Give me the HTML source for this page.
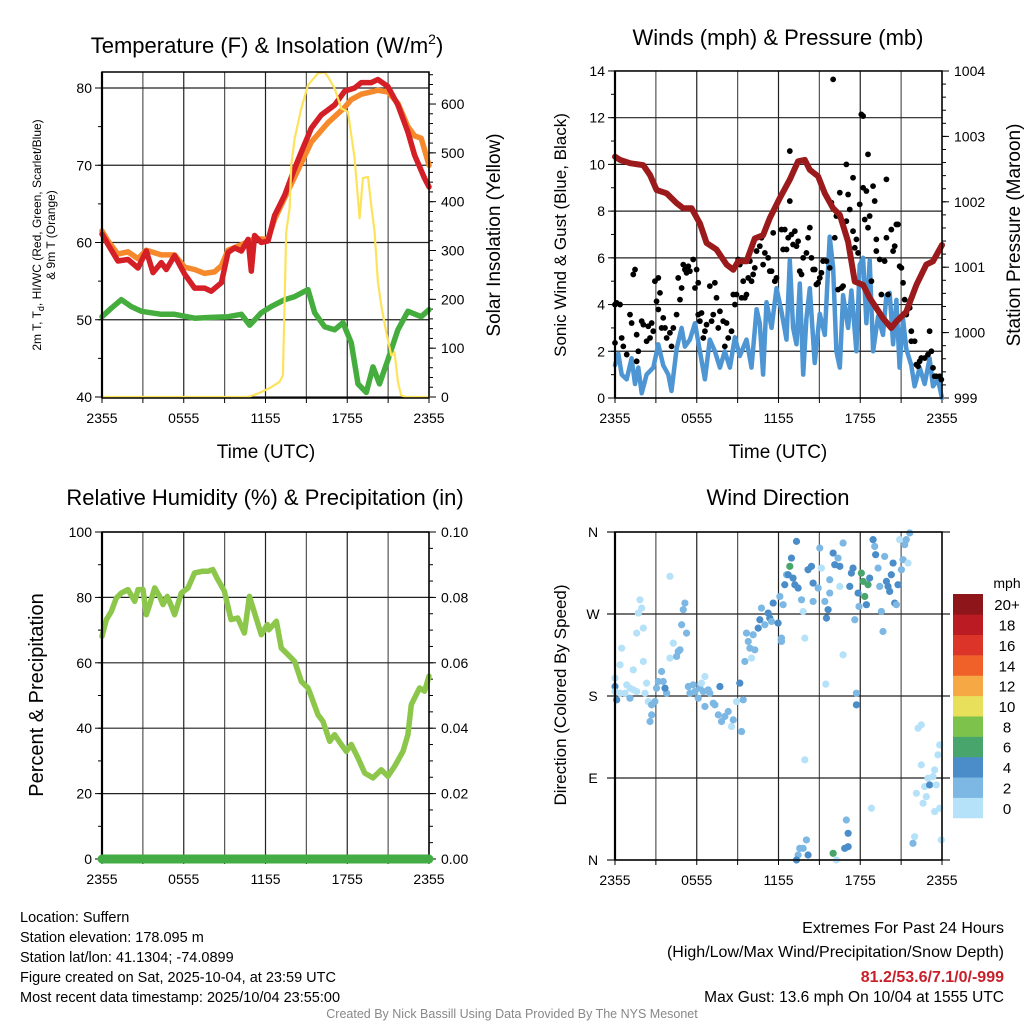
<!DOCTYPE html>
<html><head><meta charset="utf-8"><style>
html,body{margin:0;padding:0;background:#fff;}
svg{display:block;font-family:"Liberation Sans",Arial,sans-serif;}
</style></head><body>
<svg id="chart" width="1024" height="1024" viewBox="0 0 1024 1024" xmlns="http://www.w3.org/2000/svg">
<rect x="0" y="0" width="1024" height="1024" fill="#fff"/>
<g id="layer"></g>
<text x="267" y="53" font-size="22" text-anchor="middle">Temperature (F) &amp; Insolation (W/m<tspan dy="-9" font-size="14">2</tspan><tspan dy="9">)</tspan></text>
<text x="778" y="45" font-size="22" text-anchor="middle">Winds (mph) &amp; Pressure (mb)</text>
<text x="265" y="505" font-size="22" text-anchor="middle">Relative Humidity (%) &amp; Precipitation (in)</text>
<text x="778" y="505" font-size="22" text-anchor="middle">Wind Direction</text>
<text x="266" y="458" font-size="19" text-anchor="middle">Time (UTC)</text>
<text x="778" y="458" font-size="19" text-anchor="middle">Time (UTC)</text>
<text transform="translate(41,235) rotate(-90)" font-size="12" text-anchor="middle">2m T, T<tspan font-size="9" dy="3">d</tspan><tspan dy="-3">, HI/WC (Red, Green, Scarlet/Blue)</tspan></text>
<text transform="translate(55,235) rotate(-90)" font-size="12" text-anchor="middle">&amp; 9m T (Orange)</text>
<text transform="translate(500,235) rotate(-90)" font-size="19" text-anchor="middle">Solar Insolation (Yellow)</text>
<text transform="translate(566,235) rotate(-90)" font-size="17" text-anchor="middle">Sonic Wind &amp; Gust (Blue, Black)</text>
<text transform="translate(1020,235) rotate(-90)" font-size="19" text-anchor="middle">Station Pressure (Maroon)</text>
<text transform="translate(43,695) rotate(-90)" font-size="20" text-anchor="middle">Percent &amp; Precipitation</text>
<text transform="translate(566,695) rotate(-90)" font-size="17" text-anchor="middle">Direction (Colored By Speed)</text>
<g font-size="14.5">
<text x="20" y="922">Location: Suffern</text>
<text x="20" y="942">Station elevation: 178.095 m</text>
<text x="20" y="962">Station lat/lon: 41.1304; -74.0899</text>
<text x="20" y="982">Figure created on Sat, 2025-10-04, at 23:59 UTC</text>
<text x="20" y="1002">Most recent data timestamp: 2025/10/04 23:55:00</text>
</g>
<g text-anchor="end">
<text x="1004" y="933" font-size="16">Extremes For Past 24 Hours</text>
<text x="1004" y="957" font-size="16">(High/Low/Max Wind/Precipitation/Snow Depth)</text>
<text x="1004" y="982" font-size="16" font-weight="bold" fill="#c8202a">81.2/53.6/7.1/0/-999</text>
<text x="1004" y="1002" font-size="15.5">Max Gust: 13.6 mph On 10/04 at 1555 UTC</text>
</g>
<text x="512" y="1018" font-size="12.5" fill="#888" text-anchor="middle">Created By Nick Bassill Using Data Provided By The NYS Mesonet</text>
</svg>
<script>
// ---- time ticks ----
const timeTickLabels = ["2355","0555","1155","1755","2355"];
// ---- temperature panel ----
const redT = [0,0.49,1.17,1.91,2.64,3.25,3.74,4.35,4.72,5.33,6.07,6.80,7.53,8.02,8.76,9.25,9.74,10.23,10.72,10.96,11.20,11.69,12.18,12.67,13.40,14.14,14.63,15.36,16.09,17.07,17.81,18.54,19.03,19.76,20.25,20.98,21.72,22.45,22.94,23.68,24];
const redV = [61.1,59.6,57.6,57.8,56.7,58.9,56.1,57.4,56.5,58.3,55.9,54.1,54.1,53.7,54.8,58.7,59.3,58.9,60.4,56.3,60.9,60.0,60.2,63.5,66.1,69.6,71.7,74.8,76.5,77.8,79.6,80.0,80.7,80.7,81.1,80.2,77.8,74.3,71.3,68.3,67.2];
const orangeT = [0,0.44,1.17,1.91,2.64,3.25,4.35,5.33,6.07,6.80,7.53,8.26,8.76,9.25,10.23,11.20,12.18,12.67,14.14,15.36,16.58,17.81,18.30,19.03,20.25,20.98,21.72,22.45,22.94,23.43,24];
const orangeV = [61.5,60.2,58.5,58.8,57.9,59.0,58.4,58.4,56.8,56.5,56.0,56.2,57.0,59.0,59.7,60.5,60.4,63.0,68.5,73.0,75.5,77.5,78.5,79.2,79.7,79.5,78.0,75.0,73.8,73.5,70.0];
const greenT = [0,0.68,1.42,2.15,2.89,3.62,4.35,5.33,6.80,8.02,9.25,10.23,10.84,11.69,12.42,13.40,14.14,15.12,15.61,16.34,17.07,17.69,18.30,18.79,19.40,19.89,20.37,20.98,21.72,22.45,23.43,24];
const greenV = [50.4,51.5,52.6,51.7,51.1,50.9,50.7,50.7,50.2,50.3,50.4,50.7,49.3,50.9,51.7,52.6,53.0,53.9,50.9,49.1,48.7,49.6,47.0,41.7,40.6,43.9,41.7,44.8,48.7,51.1,50.4,51.3];
const solarT = [0,10.72,11.45,12.42,13.03,13.28,13.52,13.77,13.89,14.14,14.63,15.12,15.85,16.34,16.58,17.07,17.56,18.05,18.54,18.91,19.15,19.52,19.76,20.01,20.25,20.49,20.86,21.23,21.47,21.72,21.96,22.33,22.70,24];
const solarV = [0,0,7,20,31,44,338,386,475,530,591,639,663,665,656,632,591,584,489,366,448,451,393,338,236,188,133,85,92,31,3,0,0,0];
const tempTicks = [40,50,60,70,80];
const solarTicks = [0,100,200,300,400,500,600];
// ---- winds panel ----
const windT = [0,0.24,0.49,0.86,1.22,1.47,1.71,1.96,2.32,2.81,3.18,3.54,3.91,4.15,4.52,4.89,5.13,5.50,5.87,6.23,6.60,6.96,7.33,7.70,8.06,8.43,8.80,9.16,9.65,10.02,10.39,10.63,10.87,11.12,11.49,11.85,12.22,12.59,12.83,13.07,13.32,13.56,13.81,14.05,14.30,14.66,15.03,15.40,15.76,16.01,16.25,16.50,16.74,17.11,17.35,17.72,17.96,18.21,18.45,18.69,18.94,19.31,19.67,19.92,20.16,20.41,20.65,20.89,21.14,21.38,21.75,21.99,22.36,22.73,23.09,23.34,23.70,24];
const windV = [1.4,1.9,1.0,0.8,1.7,0.6,1.3,0.2,1.0,1.3,2.3,1.4,1.0,0.3,2.1,3.0,2.2,2.5,3.2,2.0,0.8,2.5,2.0,1.3,2.0,1.3,2.6,1.8,2.5,1.3,3.8,3.2,1.0,4.1,3.0,4.7,3.7,2.5,5.9,3.0,2.3,4.9,1.0,3.4,4.7,1.5,3.6,2.7,6.9,5.6,2.0,1.3,4.4,3.0,4.6,2.0,5.7,6.0,3.2,5.9,2.0,3.5,2.7,4.4,4.5,2.3,4.2,1.3,3.4,2.1,1.4,0.5,1.3,0.6,1.7,0.5,0.8,0.0];
const gustT = [
0,0.12,0.37,0,0.49,0.61,1.10,1.22,0.86,1.34,
1.47,1.59,1.71,1.59,1.96,2.08,2.32,2.44,2.57,2.69,
2.81,2.93,3.05,3.18,3.30,3.18,3.54,3.67,3.42,3.79,
4.03,4.15,4.28,4.52,4.64,4.77,4.89,5.01,5.13,5.25,
5.38,5.50,5.74,5.87,5.99,6.11,6.23,6.11,6.35,6.48,
6.60,6.72,6.96,7.09,7.21,7.33,7.45,7.58,7.70,7.94,
8.06,8.19,8.31,8.55,8.68,8.80,8.92,9.04,9.16,9.29,
9.41,9.53,9.65,9.78,9.90,10.02,10.14,10.26,10.39,10.63,
10.75,10.87,11.00,11.24,11.36,11.49,11.61,11.73,11.85,12.22,
12.34,12.46,12.59,12.71,12.83,12.83,12.95,13.07,13.20,13.32,
13.44,13.56,13.69,13.81,14.05,14.17,14.30,14.42,14.54,14.66,
14.78,14.91,15.03,15.15,15.27,15.52,15.76,15.88,16.01,16.13,
16.25,16.37,16.50,16.62,16.74,16.98,16.98,17.11,17.23,17.47,
17.47,17.60,17.72,17.84,17.96,18.08,18.21,18.21,18.33,18.45,
18.57,18.57,18.69,18.82,18.94,19.06,19.18,19.18,19.43,19.55,
19.79,19.92,19.92,20.04,20.28,20.41,20.53,20.65,20.77,20.89,
21.02,21.14,21.26,21.38,21.63,21.75,21.75,21.99,22.12,22.24,
22.36,22.48,22.73,22.97,23.09,23.22,23.34,23.46,23.58,23.83,
23.95];
const gustV = [
4.0,4.07,4.0,2.36,2.57,2.21,3.57,3.21,1.86,5.29,
5.5,2.71,2.0,1.57,3.29,3.14,2.43,3.07,2.57,3.21,
2.86,5.0,4.14,5.14,4.5,3.79,3.43,3.0,3.0,2.57,
2.79,2.21,3.0,3.57,5.14,4.21,4.71,5.71,5.5,5.36,
5.64,5.43,5.93,4.71,5.5,3.57,3.29,4.93,3.64,2.57,
2.86,3.14,4.79,3.29,3.57,4.93,4.29,3.0,3.71,3.29,
2.21,3.21,2.57,2.86,4.43,4.0,4.43,5.93,5.71,4.29,
5.0,4.29,4.43,5.14,5.86,5.0,5.29,5.57,6.29,6.5,
6.86,5.71,6.21,6.0,5.43,5.43,7.07,5.0,5.14,7.21,
6.36,7.21,6.36,6.86,10.57,8.43,7.0,6.57,7.14,6.5,
6.71,5.43,5.29,6.0,6.21,6.86,7.29,6.0,5.5,5.5,
4.86,4.93,5.14,5.36,5.86,5.86,5.57,8.36,13.64,6.86,
7.79,4.64,8.79,4.71,4.79,10.0,7.57,8.71,8.07,9.43,
7.14,6.43,6.79,6.21,8.29,12.14,12.07,9.0,7.64,8.86,
10.43,7.29,7.79,5.0,9.07,8.43,6.79,6.29,5.93,4.43,
5.86,9.36,6.86,4.43,7.21,6.29,6.5,7.43,7.43,5.64,
5.57,4.93,4.21,3.57,3.86,2.86,2.43,2.43,1.43,1.36,
1.57,1.71,1.71,1.86,2.86,2.0,1.29,0.93,0.93,0.93,
0.79];
const presT = [0,0.37,1.10,2.08,2.57,3.05,3.79,4.52,5.01,5.62,6.23,6.72,7.45,8.19,8.68,9.04,9.65,10.26,10.87,11.36,12.10,12.83,13.44,13.93,14.30,14.91,15.40,16.01,16.50,17.11,17.60,18.21,18.69,19.67,20.28,20.65,21.38,22.12,22.85,23.34,24];
const presV = [1002.69,1002.64,1002.59,1002.56,1002.41,1002.18,1002.13,1001.98,1001.90,1001.90,1001.67,1001.37,1001.27,1001.04,1000.96,1001.09,1001.09,1001.44,1001.49,1001.75,1002.06,1002.34,1002.62,1002.64,1002.49,1002.39,1002.13,1001.90,1001.80,1001.39,1000.78,1000.73,1000.53,1000.22,1000.07,1000.17,1000.32,1000.73,1001.04,1001.09,1001.34];
const windTicks = [0,2,4,6,8,10,12,14];
const presTicks = [999,1000,1001,1002,1003,1004];
// ---- humidity panel ----
const rhT = [0,0.32,0.68,1.05,1.42,1.91,2.40,2.64,3.01,3.25,3.50,3.87,4.23,4.48,4.79,5.09,5.33,5.82,6.31,6.80,7.40,7.77,8.13,8.51,8.98,9.47,9.96,10.45,10.82,11.69,12.13,12.24,12.80,13.16,13.53,14.14,14.63,15.12,15.36,15.85,16.21,16.71,17.07,17.56,17.93,18.30,18.79,19.28,19.89,20.50,20.98,21.47,22.09,22.45,22.70,23.07,23.31,23.68,24];
const rhV = [68.1,73.2,75.7,79.8,81.3,82.4,78.8,82.4,82.4,74.7,77.8,82.9,80.3,77.8,80.3,77.3,74.7,81.3,82.9,87.5,88.0,88.0,88.5,85.4,81.9,73.2,73.7,69.1,80.3,68.6,71.7,70.1,72.7,64.5,63.0,60.4,54.3,52.3,49.7,44.1,42.1,36.0,38.0,35.0,32.9,35.0,30.9,26.3,24.8,27.3,25.3,28.3,32.9,38.0,47.2,50.3,52.3,51.3,55.9,56.9];
const precipT = [0,24];
const precipV = [0,0];
const rhTicks = [0,20,40,60,80,100];
const precipTicks = ["0.00","0.02","0.04","0.06","0.08","0.10"];
// ---- wind direction panel ----
const dirTickLabels = ["N","E","S","W","N"];
const dirT = [
0,0,0.12,0,0.37,0.49,0.37,0.86,0.73,1.10,
1.10,1.34,1.59,1.34,1.71,1.83,1.96,1.59,2.08,2.08,
2.20,2.32,2.44,2.69,2.69,2.57,2.93,3.05,3.18,3.42,
3.54,3.79,3.67,4.03,4.03,4.28,4.52,4.64,4.77,4.89,
5.01,5.13,5.25,5.38,5.50,5.74,5.87,6.11,6.23,6.35,
6.48,6.60,6.60,6.84,6.96,7.21,7.33,7.58,7.70,7.82,
8.06,8.31,8.55,8.68,8.92,9.16,9.29,9.41,9.53,9.65,
9.78,9.90,10.02,10.14,10.26,10.51,10.63,10.75,11.00,11.24,
11.36,11.49,11.61,11.97,12.10,12.22,12.22,12.34,12.46,12.59,
12.71,12.83,12.95,13.07,13.20,13.32,13.44,13.69,13.81,13.93,
13.93,14.05,13.56,13.44,13.32,14.17,14.17,14.42,14.54,14.54,
14.91,15.03,15.15,15.40,15.52,15.64,15.76,15.76,16.01,16.13,
16.37,16.50,16.50,16.74,16.74,16.86,16.98,17.11,17.11,17.23,
17.35,17.47,17.60,17.72,17.72,17.84,17.91,18.08,18.21,18.33,
18.45,18.57,18.69,18.94,19.06,19.13,19.31,19.43,19.55,19.67,
19.79,19.92,20.04,20.16,20.28,20.41,20.53,20.65,20.77,20.89,
21.02,21.14,21.26,21.38,21.51,21.63,21.87,21.99,22.12,22.24,
22.48,22.48,22.61,22.73,22.85,22.97,23.09,23.34,23.46,23.58,
23.70,23.83,23.46,23.83,23.95,15.47,18.82,16.01,16.25,13.81];
const dirV = [
199.6,190.4,175.8,184.9,183.1,232.5,214.2,192.3,183.1,177.6,
188.6,186.8,184.9,208.7,271.0,285.6,276.5,249.0,254.5,217.9,
183.1,194.1,173.9,170.3,159.3,152.0,173.9,188.6,195.9,206.9,
195.9,183.1,188.6,311.3,221.6,238.0,223.4,228.9,230.7,258.2,
274.7,282.0,249.0,190.4,183.1,192.3,184.9,177.6,188.6,194.1,
184.9,168.5,201.4,186.8,183.1,172.1,170.3,159.3,190.4,152.0,
157.5,163.0,146.5,153.8,173.9,194.1,141.0,175.8,217.9,249.0,
239.9,232.5,221.6,247.2,230.7,254.5,263.7,276.5,258.2,271.0,
265.5,261.8,282.0,260.0,289.3,243.5,239.9,280.2,302.1,313.1,
313.1,322.3,331.4,309.4,302.1,349.7,298.5,285.6,272.8,243.5,
109.9,22.0,12.8,5.5,0.0,5.5,318.6,322.3,283.8,303.9,
298.5,342.4,320.4,283.8,265.5,274.7,293.0,307.6,336.9,324.1,
331.4,322.3,300.3,347.9,225.2,12.8,43.9,29.3,14.6,300.3,
314.9,320.4,263.7,183.1,170.3,293.0,278.3,314.9,305.8,289.3,
280.2,302.1,309.4,351.6,344.2,335.1,320.4,300.3,272.8,250.8,
333.2,305.8,300.3,294.8,313.1,325.9,282.0,280.2,302.1,351.6,
318.6,329.6,346.1,351.6,325.9,358.9,18.3,25.6,73.2,144.6,
148.3,104.4,62.3,80.6,69.6,89.7,82.4,91.6,98.9,82.4,
115.4,126.3,53.1,56.8,22.0,193.0,56.8,7.3,0.0,12.8];
const dirS = [
1,5,5,1,1,1,1,1,1,3,
1,1,1,1,1,1,1,1,1,1,
1,1,1,3,3,3,3,3,3,3,
3,3,5,1,1,1,3,3,3,3,
3,3,3,3,3,3,3,3,3,1,
3,3,1,3,3,3,3,3,5,3,
3,3,1,3,1,5,3,3,3,3,
3,3,1,3,3,5,5,3,3,5,
5,3,5,5,3,3,3,3,5,3,
5,6,5,5,5,5,5,3,1,1,
1,3,3,3,5,5,5,5,3,5,
3,3,1,3,5,5,3,3,5,5,
3,5,1,3,1,5,3,5,5,5,
5,5,3,3,5,5,3,6,6,6,
5,6,5,5,3,5,3,3,3,3,
3,5,5,5,5,5,5,3,5,1,
3,3,3,3,1,3,3,1,1,1,
1,1,1,1,1,1,5,1,1,1,
1,1,1,1,1,1,1,6,1,3];
const speedBins = ["0","2","4","6","8","10","12","14","16","18","20+"];
const speedColors = ["#b5e2f8","#7cb8e3","#4a8dc8","#48a56c","#7dc24b","#e8e05a","#f5a843","#ef6129","#dd3429","#bb1c23","#8e1519"];

const NS="http://www.w3.org/2000/svg";
const layer=document.getElementById('layer');
function mk(tag,attrs,parent){const e=document.createElementNS(NS,tag);for(const k in attrs)e.setAttribute(k,attrs[k]);(parent||layer).appendChild(e);return e;}
function txt(s,x,y,size,anchor,parent){const e=mk('text',{x:x,y:y,'font-size':size,'text-anchor':anchor||'middle'},parent);e.textContent=s;return e;}

function makePanel(name,x0,x1,y0,y1){
  const g=mk('g',{});
  
  
  const xs=t=>x0+t/24*(x1-x0);
  for(let i=0;i<=8;i++){const x=xs(i*3);
    const l=mk('line',{x1:x,x2:x,y1:y0,y2:y1,stroke:i%2? '#555':'#222','stroke-width':1.2},g);
    
    
    mk('line',{x1:x,x2:x,y1:y1,y2:y1+5,stroke:'#000','stroke-width':1},g);}
  timeTickLabels.forEach((s,i)=>{const e=txt(s,xs(i*6),y1+25,14,'middle',g);
    
    });
  return {g,xs};
}
function hgrid(g,x0,x1,y,col){mk('line',{x1:x0,x2:x1,y1:y,y2:y,stroke:col||'#222','stroke-width':1.2},g);}
function frame(g,x0,x1,y0,y1){mk('rect',{x:x0,y:y0,width:x1-x0,height:y1-y0,fill:'none',stroke:'#000','stroke-width':1.5},g);
  mk('line',{x1:x0,x2:x0,y1:y0,y2:y1,stroke:'#000','stroke-width':2.2},g);}
function path(g,T,V,xs,ys,color,w,name){
  let d='';const n=Math.min(T.length,V.length);
  for(let i=0;i<n;i++)d+=(i?'L':'M')+xs(T[i]).toFixed(1)+','+ys(V[i]).toFixed(1);
  const p=mk('path',{d:d,fill:'none',stroke:color,'stroke-width':w,'stroke-linejoin':'round','stroke-linecap':'round'},g);
  
  
  return p;}
function leftTicks(g,x0,vals,ys,minor,labels){
  vals.forEach((v,i)=>{const y=ys(v);mk('line',{x1:x0-7,x2:x0,y1:y,y2:y,stroke:'#000'},g);
    const e=txt(labels?labels[i]:String(v),x0-10,y+5,14,'end',g);
    
    });
  minor.forEach(v=>{const y=ys(v);mk('line',{x1:x0-4,x2:x0,y1:y,y2:y,stroke:'#000'},g);});
}
function rightTicks(g,x1,vals,ys,minor,labels){
  vals.forEach((v,i)=>{const y=ys(v);mk('line',{x1:x1,x2:x1+7,y1:y,y2:y,stroke:'#000'},g);
    const e=txt(labels?labels[i]:String(v),x1+12,y+5,14,'start',g);
    
    });
  minor.forEach(v=>{const y=ys(v);mk('line',{x1:x1,x2:x1+4,y1:y,y2:y,stroke:'#000'},g);});
}
function range(a,b,s){const r=[];for(let v=a;v<=b+1e-9;v+=s)r.push(+v.toFixed(4));return r;}

(function(){
  const x0=102,x1=429,y0=72,y1=398;
  const {g,xs}=makePanel('temperature-panel',x0,x1,y0,y1);
  const ys=v=>397-(v-40)*7.725, ss=v=>397-v*0.4883;
  tempTicks.forEach(v=>hgrid(g,x0,x1,ys(v)));
  leftTicks(g,x0,tempTicks,ys,range(40,80,5));
  rightTicks(g,x1,solarTicks,ss,range(0,660,20));
  path(g,orangeT,orangeV,xs,ys,'#f5892b',5.5,'9m-temperature-line');
  path(g,redT,redV,xs,ys,'#d41f27',5.5,'2m-temperature-line');
  path(g,greenT,greenV,xs,ys,'#44ad3e',5.5,'dewpoint-line');
  path(g,solarT,solarV,xs,ss,'#fde35c',2.2,'solar-insolation-line');
  frame(g,x0,x1,y0,y1);
})();

(function(){
  const x0=615,x1=942,y0=71,y1=398;
  const {g,xs}=makePanel('winds-panel',x0,x1,y0,y1);
  const ys=v=>398-v*23.36, ps=p=>398-(p-999)*65.4;
  windTicks.forEach(v=>hgrid(g,x0,x1,ys(v)));
  leftTicks(g,x0,windTicks,ys,range(0,14,1));
  rightTicks(g,x1,presTicks,ps,range(999,1004,0.2));
  path(g,windT,windV,xs,ys,'#4d96d3',4.5,'sonic-wind-line');
  const n=Math.min(gustT.length,gustV.length);
  for(let i=0;i<n;i++){const c=mk('circle',{cx:xs(gustT[i]),cy:ys(gustV[i]),r:2.9,fill:'#000'},g);
    
    }
  path(g,presT,presV,xs,ps,'#9b1a1c',6,'pressure-line');
  frame(g,x0,x1,y0,y1);
})();

(function(){
  const x0=102,x1=429,y0=532,y1=859;
  const {g,xs}=makePanel('humidity-panel',x0,x1,y0,y1);
  const ys=v=>859-v*3.27, rs=v=>859-v*3270;
  rhTicks.forEach(v=>hgrid(g,x0,x1,ys(v)));
  leftTicks(g,x0,rhTicks,ys,range(0,100,10));
  rightTicks(g,x1,precipTicks.map(Number),rs,range(0,0.1,0.005),precipTicks);
  path(g,rhT,rhV,xs,ys,'#8cc74b',5.5,'relative-humidity-line');
  frame(g,x0,x1,y0,y1);
  path(g,precipT,precipV,xs,rs,'#43ac45',9,'precipitation-line');
})();

(function(){
  const x0=615,x1=942,y0=532,y1=860;
  const {g,xs}=makePanel('wind-direction-panel',x0,x1,y0,y1);
  const ys=d=>860-d*0.9111;
  [0,90,180,270,360].forEach(d=>hgrid(g,x0-8,x1+8,ys(d)));
  dirTickLabels.forEach((s,i)=>{const e=txt(s,x0-22,ys(i*90)+5,14,'middle',g);
    
    });
  const n=Math.min(dirT.length,dirV.length,dirS.length);
  for(let i=0;i<n;i++){const bin=Math.min(10,Math.floor(dirS[i]/2));
    const c=mk('circle',{cx:xs(dirT[i]),cy:ys(dirV[i]),r:3.6,fill:speedColors[bin]},g);
    
    }
  frame(g,x0,x1,y0,y1);
  const cb=mk('g',{});
  
  
  const top=594,h=20.36;
  for(let i=0;i<11;i++){const y=top+(10-i)*h;
    mk('rect',{x:953,y:y,width:30,height:h+0.3,fill:speedColors[i]},cb);
    const e=txt(speedBins[i],1007,y+h/2+6,15,'middle',cb);
    
    }
  const u=txt('mph',1007,588,14,'middle',cb);
  
  
})();
</script>
</body></html>
